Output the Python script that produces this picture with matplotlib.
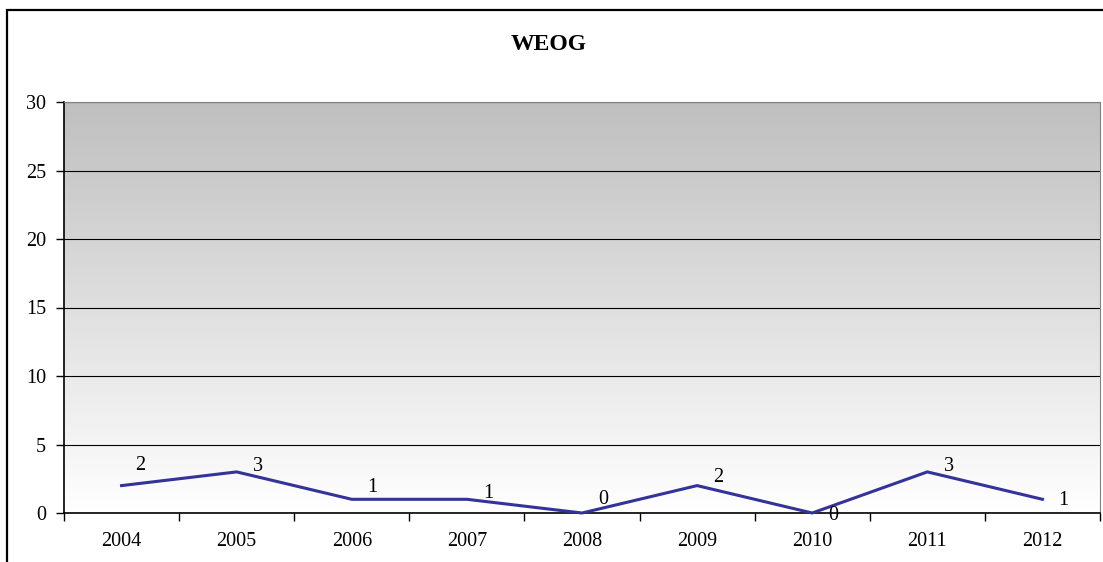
import matplotlib.pyplot as plt
import numpy as np
from matplotlib.colors import LinearSegmentedColormap
from matplotlib.patches import Rectangle

years = ["2004", "2005", "2006", "2007", "2008", "2009", "2010", "2011", "2012"]
counts = [2, 3, 1, 1, 0, 2, 0, 3, 1]
# Excel-style label placement (pixel offsets from each point)
label_dx = [19, 21, 21, 21, 21, 21, 21, 22, 21]
label_dy = [20, 5, 12, 6, 14, 8, -2, 5, -1]

plt.rcParams["font.family"] = ["Liberation Serif", "DejaVu Serif"]

W, H, DPI = 1103, 562, 100
fig = plt.figure(figsize=(W / DPI, H / DPI), dpi=DPI)
ax = fig.add_axes([64 / W, 1 - 513 / H, (1100 - 64) / W, (513 - 102) / H])

# outer chart border
fig.patches.append(Rectangle((7 / W, -0.05), 1.1, 1 - 10 / H + 0.05,
                             transform=fig.transFigure, fill=False,
                             edgecolor="black", linewidth=1.6))

# gray-to-white gradient fill of the plot area
cmap = LinearSegmentedColormap.from_list("bg", ["#ffffff", "#bfbfbf"])
grad = np.linspace(0, 1, 256).reshape(-1, 1)
ax.imshow(grad, cmap=cmap, aspect="auto", origin="lower",
          extent=[-0.5, len(years) - 0.5, 0, 30], zorder=0)

x = np.arange(len(years))
ax.plot(x, counts, color="#333399", linewidth=2.2, zorder=3, clip_on=False)
for xi, v, dx, dy in zip(x, counts, label_dx, label_dy):
    ax.annotate(str(v), (xi, v), xytext=(dx, dy), textcoords="offset pixels",
                ha="center", va="center", fontsize=14.5, zorder=4)

ax.set_xlim(-0.5, len(years) - 0.5)
ax.set_ylim(0, 30)
ax.set_yticks(range(0, 31, 5))
ax.set_xticks(x)
ax.set_xticklabels(years)
ax.set_xticks(np.arange(-0.5, len(years), 1), minor=True)
ax.tick_params(axis="x", which="major", length=0, pad=14, labelsize=14.5)
ax.tick_params(axis="x", which="minor", length=6, width=1, direction="out")
ax.tick_params(axis="y", length=6, width=1, direction="out", labelsize=14.5,
               pad=7)
ax.grid(axis="y", color="black", linewidth=0.8, zorder=1)
ax.set_axisbelow(True)

for side in ("top", "right"):
    ax.spines[side].set_color("#808080")
ax.spines["left"].set_linewidth(1.2)
ax.spines["bottom"].set_linewidth(1.2)

fig.text(549 / W, 1 - 45 / H, "WEOG", ha="center", va="center",
         fontsize=17, fontweight="bold")

fig.savefig("out.png", dpi=DPI)
